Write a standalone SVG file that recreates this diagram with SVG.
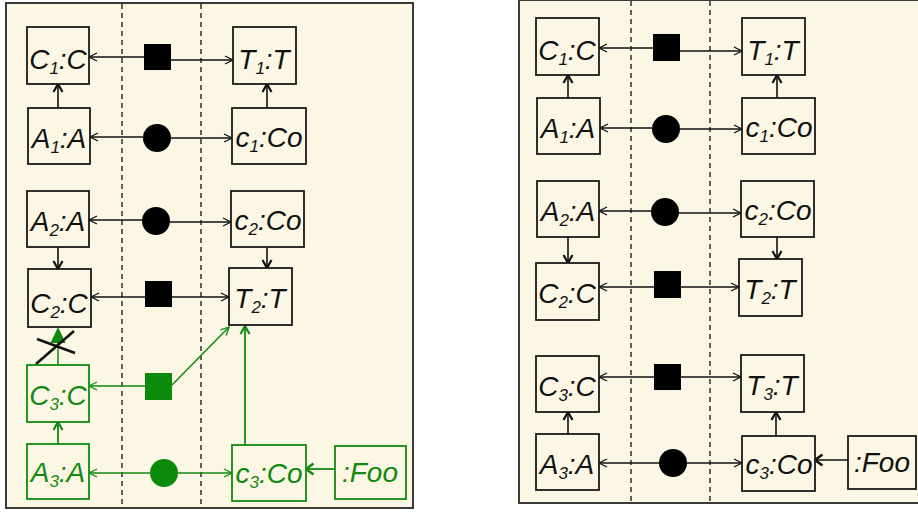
<svg xmlns="http://www.w3.org/2000/svg" width="918" height="513" viewBox="0 0 918 513">
<style>
.panel{fill:#fcf6e5;stroke:#3a3a3a;stroke-width:2}
.dash{stroke:#111;stroke-width:1.3;stroke-dasharray:5,4;fill:none}
.n{fill:#fcf6e5;stroke:#1a1a1a;stroke-width:1.8}
.ng{fill:#fcf6e5;stroke:#118a11;stroke-width:1.8}
.t{font-family:"Liberation Sans",Arial,sans-serif;font-style:italic;font-size:28px;fill:#111;text-anchor:middle}
.tg{fill:#118a11}
.s{font-size:17px}
.c{stroke:#111;stroke-width:1.3;fill:none}
.cv{stroke:#111;stroke-width:1.6;fill:none}
.cg{stroke:#118a11;stroke-width:1.5;fill:none}
.cgv{stroke:#118a11;stroke-width:1.8;fill:none}
.fb{fill:#000}
.fg{fill:#0b8a0b}
</style>
<defs>
<marker id="a" markerUnits="userSpaceOnUse" markerWidth="12" markerHeight="12" refX="9" refY="6" orient="auto" overflow="visible"><path d="M1,2 L9,6 L1,10" fill="none" stroke="#111" stroke-width="1.3"/></marker>
<marker id="av" markerUnits="userSpaceOnUse" markerWidth="12" markerHeight="12" refX="9" refY="6" orient="auto" overflow="visible"><path d="M1,1.5 L9,6 L1,10.5" fill="none" stroke="#111" stroke-width="2.2"/></marker>
<marker id="afoo" markerUnits="userSpaceOnUse" markerWidth="12" markerHeight="14" refX="9" refY="7" orient="auto" overflow="visible"><path d="M1.5,1.5 L9,7 L1.5,12.5" fill="none" stroke="#111" stroke-width="2.6"/></marker>
<marker id="g" markerUnits="userSpaceOnUse" markerWidth="12" markerHeight="12" refX="9" refY="6" orient="auto" overflow="visible"><path d="M1,2 L9,6 L1,10" fill="none" stroke="#118a11" stroke-width="1.3"/></marker>
<marker id="gv" markerUnits="userSpaceOnUse" markerWidth="12" markerHeight="12" refX="9" refY="6" orient="auto" overflow="visible"><path d="M1,1.5 L9,6 L1,10.5" fill="none" stroke="#118a11" stroke-width="2.2"/></marker>
<marker id="gfoo" markerUnits="userSpaceOnUse" markerWidth="12" markerHeight="14" refX="9" refY="7" orient="auto" overflow="visible"><path d="M1.5,1.5 L9,7 L1.5,12.5" fill="none" stroke="#118a11" stroke-width="2.6"/></marker>
</defs>

<g id="panels">
<rect class="panel" x="6" y="3" width="407" height="505"/>
<rect class="panel" x="519" y="0" width="410" height="503"/>
<line class="dash" x1="122" y1="4" x2="122" y2="507"/>
<line class="dash" x1="201" y1="4" x2="201" y2="507"/>
<line class="dash" x1="631" y1="1" x2="631" y2="502"/>
<line class="dash" x1="710" y1="1" x2="710" y2="502"/>
</g>

<g id="connectors">
<!-- left panel -->
<line class="c" x1="144" y1="57" x2="89" y2="57" marker-end="url(#a)"/>
<line class="c" x1="171" y1="60" x2="233" y2="60" marker-end="url(#a)"/>
<line class="c" x1="143" y1="137" x2="90" y2="137" marker-end="url(#a)"/>
<line class="c" x1="171" y1="138" x2="232" y2="138" marker-end="url(#a)"/>
<line class="cv" x1="58" y1="108" x2="58" y2="84" marker-end="url(#av)"/>
<line class="cv" x1="267" y1="108" x2="267" y2="84" marker-end="url(#av)"/>
<line class="c" x1="142" y1="220" x2="89" y2="220" marker-end="url(#a)"/>
<line class="c" x1="170" y1="222" x2="231" y2="222" marker-end="url(#a)"/>
<line class="cv" x1="58" y1="247" x2="58" y2="269" marker-end="url(#av)"/>
<line class="cv" x1="267" y1="247" x2="267" y2="268" marker-end="url(#av)"/>
<line class="c" x1="145" y1="297" x2="91" y2="297" marker-end="url(#a)"/>
<line class="c" x1="172" y1="297" x2="229" y2="297" marker-end="url(#a)"/>
<line class="cg" x1="58" y1="365" x2="58" y2="342"/>
<polygon class="fg" points="58,327 65.5,343 50.5,343"/>
<line x1="36" y1="364" x2="74" y2="331" stroke="#111" stroke-width="2.6"/>
<line x1="37" y1="339" x2="75" y2="353" stroke="#111" stroke-width="2.6"/>
<line class="cg" x1="145" y1="386" x2="89" y2="386" marker-end="url(#g)"/>
<line class="cg" x1="172" y1="385" x2="229" y2="327" marker-end="url(#g)"/>
<line class="cgv" x1="58" y1="444" x2="58" y2="422" marker-end="url(#gv)"/>
<line class="cg" x1="150" y1="473" x2="89" y2="473" marker-end="url(#g)"/>
<line class="cg" x1="178" y1="473" x2="232" y2="473" marker-end="url(#g)"/>
<line class="cgv" x1="245" y1="445" x2="245" y2="326" marker-end="url(#gv)"/>
<line class="cgv" x1="335" y1="469" x2="306" y2="469" marker-end="url(#gfoo)"/>
<!-- right panel -->
<line class="c" x1="653" y1="48" x2="599" y2="48" marker-end="url(#a)"/>
<line class="c" x1="680" y1="51" x2="742" y2="51" marker-end="url(#a)"/>
<line class="c" x1="652" y1="128" x2="600" y2="128" marker-end="url(#a)"/>
<line class="c" x1="680" y1="129" x2="742" y2="129" marker-end="url(#a)"/>
<line class="cv" x1="568" y1="98" x2="568" y2="75" marker-end="url(#av)"/>
<line class="cv" x1="777" y1="98" x2="777" y2="75" marker-end="url(#av)"/>
<line class="c" x1="651" y1="211" x2="599" y2="211" marker-end="url(#a)"/>
<line class="c" x1="679" y1="213" x2="741" y2="213" marker-end="url(#a)"/>
<line class="cv" x1="568" y1="237" x2="568" y2="263" marker-end="url(#av)"/>
<line class="cv" x1="777" y1="237" x2="777" y2="259" marker-end="url(#av)"/>
<line class="c" x1="654" y1="287" x2="599" y2="287" marker-end="url(#a)"/>
<line class="c" x1="681" y1="287" x2="739" y2="287" marker-end="url(#a)"/>
<line class="c" x1="654" y1="377" x2="599" y2="377" marker-end="url(#a)"/>
<line class="c" x1="681" y1="377" x2="741" y2="377" marker-end="url(#a)"/>
<line class="cv" x1="568" y1="434" x2="568" y2="412" marker-end="url(#av)"/>
<line class="cv" x1="776" y1="436" x2="776" y2="412" marker-end="url(#av)"/>
<line class="c" x1="659" y1="463" x2="599" y2="463" marker-end="url(#a)"/>
<line class="c" x1="687" y1="463" x2="742" y2="463" marker-end="url(#a)"/>
<line class="cv" x1="848" y1="460" x2="815" y2="460" marker-end="url(#afoo)"/>
</g>

<g id="L-sq1"><rect class="fb" x="144" y="44" width="27" height="26"/></g>
<g id="L-ci1"><circle class="fb" cx="157" cy="138" r="14"/></g>
<g id="L-ci2"><circle class="fb" cx="156" cy="221" r="14"/></g>
<g id="L-sq2"><rect class="fb" x="145" y="281" width="27" height="26"/></g>
<g id="L-sq3"><rect class="fg" x="145" y="373" width="27" height="27"/></g>
<g id="L-ci3"><circle class="fg" cx="164" cy="473" r="14"/></g>

<g id="L-C1"><rect class="n" x="27" y="27" width="62" height="57"/><text class="t" x="58" y="69">C<tspan class="s" dy="5">1</tspan><tspan dy="-5">:C</tspan></text></g>
<g id="L-T1"><rect class="n" x="233" y="27" width="63" height="57"/><text class="t" x="264" y="69">T<tspan class="s" dy="5">1</tspan><tspan dy="-5">:T</tspan></text></g>
<g id="L-A1"><rect class="n" x="28" y="108" width="62" height="56"/><text class="t" x="59" y="148">A<tspan class="s" dy="5">1</tspan><tspan dy="-5">:A</tspan></text></g>
<g id="L-c1"><rect class="n" x="232" y="108" width="74" height="56"/><text class="t" x="269" y="147">c<tspan class="s" dy="5">1</tspan><tspan dy="-5">:Co</tspan></text></g>
<g id="L-A2"><rect class="n" x="27" y="191" width="62" height="56"/><text class="t" x="58" y="231">A<tspan class="s" dy="5">2</tspan><tspan dy="-5">:A</tspan></text></g>
<g id="L-c2"><rect class="n" x="231" y="191" width="73" height="56"/><text class="t" x="268" y="230">c<tspan class="s" dy="5">2</tspan><tspan dy="-5">:Co</tspan></text></g>
<g id="L-C2"><rect class="n" x="28" y="269" width="63" height="58"/><text class="t" x="59" y="313">C<tspan class="s" dy="5">2</tspan><tspan dy="-5">:C</tspan></text></g>
<g id="L-T2"><rect class="n" x="229" y="268" width="63" height="57"/><text class="t" x="260" y="308">T<tspan class="s" dy="5">2</tspan><tspan dy="-5">:T</tspan></text></g>
<g id="L-C3"><rect class="ng" x="27" y="365" width="62" height="57"/><text class="t tg" x="58" y="405">C<tspan class="s" dy="5">3</tspan><tspan dy="-5">:C</tspan></text></g>
<g id="L-A3"><rect class="ng" x="27" y="444" width="62" height="55"/><text class="t tg" x="58" y="482">A<tspan class="s" dy="5">3</tspan><tspan dy="-5">:A</tspan></text></g>
<g id="L-c3"><rect class="ng" x="232" y="445" width="74" height="56"/><text class="t tg" x="269" y="483">c<tspan class="s" dy="5">3</tspan><tspan dy="-5">:Co</tspan></text></g>
<g id="L-Foo"><rect class="ng" x="335" y="446" width="71" height="53"/><text class="t tg" x="370" y="482">:Foo</text></g>

<g id="R-sq1"><rect class="fb" x="653" y="34" width="27" height="27"/></g>
<g id="R-ci1"><circle class="fb" cx="666" cy="129" r="14"/></g>
<g id="R-ci2"><circle class="fb" cx="665" cy="212" r="14"/></g>
<g id="R-sq2"><rect class="fb" x="654" y="271" width="27" height="27"/></g>
<g id="R-sq3"><rect class="fb" x="654" y="364" width="27" height="26"/></g>
<g id="R-ci3"><circle class="fb" cx="673" cy="463" r="14"/></g>

<g id="R-C1"><rect class="n" x="536" y="18" width="63" height="57"/><text class="t" x="567" y="60">C<tspan class="s" dy="5">1</tspan><tspan dy="-5">:C</tspan></text></g>
<g id="R-T1"><rect class="n" x="742" y="18" width="63" height="57"/><text class="t" x="773" y="60">T<tspan class="s" dy="5">1</tspan><tspan dy="-5">:T</tspan></text></g>
<g id="R-A1"><rect class="n" x="537" y="98" width="63" height="56"/><text class="t" x="568" y="138">A<tspan class="s" dy="5">1</tspan><tspan dy="-5">:A</tspan></text></g>
<g id="R-c1"><rect class="n" x="742" y="98" width="73" height="56"/><text class="t" x="779" y="137">c<tspan class="s" dy="5">1</tspan><tspan dy="-5">:Co</tspan></text></g>
<g id="R-A2"><rect class="n" x="537" y="181" width="62" height="56"/><text class="t" x="568" y="221">A<tspan class="s" dy="5">2</tspan><tspan dy="-5">:A</tspan></text></g>
<g id="R-c2"><rect class="n" x="741" y="181" width="73" height="56"/><text class="t" x="778" y="220">c<tspan class="s" dy="5">2</tspan><tspan dy="-5">:Co</tspan></text></g>
<g id="R-C2"><rect class="n" x="536" y="263" width="63" height="57"/><text class="t" x="567" y="303">C<tspan class="s" dy="5">2</tspan><tspan dy="-5">:C</tspan></text></g>
<g id="R-T2"><rect class="n" x="739" y="259" width="63" height="57"/><text class="t" x="770" y="299">T<tspan class="s" dy="5">2</tspan><tspan dy="-5">:T</tspan></text></g>
<g id="R-C3"><rect class="n" x="536" y="356" width="63" height="56"/><text class="t" x="567" y="396">C<tspan class="s" dy="5">3</tspan><tspan dy="-5">:C</tspan></text></g>
<g id="R-T3"><rect class="n" x="741" y="355" width="63" height="57"/><text class="t" x="772" y="395">T<tspan class="s" dy="5">3</tspan><tspan dy="-5">:T</tspan></text></g>
<g id="R-A3"><rect class="n" x="536" y="434" width="63" height="56"/><text class="t" x="567" y="474">A<tspan class="s" dy="5">3</tspan><tspan dy="-5">:A</tspan></text></g>
<g id="R-c3"><rect class="n" x="742" y="436" width="73" height="55"/><text class="t" x="779" y="474">c<tspan class="s" dy="5">3</tspan><tspan dy="-5">:Co</tspan></text></g>
<g id="R-Foo"><rect class="n" x="848" y="436" width="68" height="53"/><text class="t" x="882" y="472">:Foo</text></g>
</svg>
